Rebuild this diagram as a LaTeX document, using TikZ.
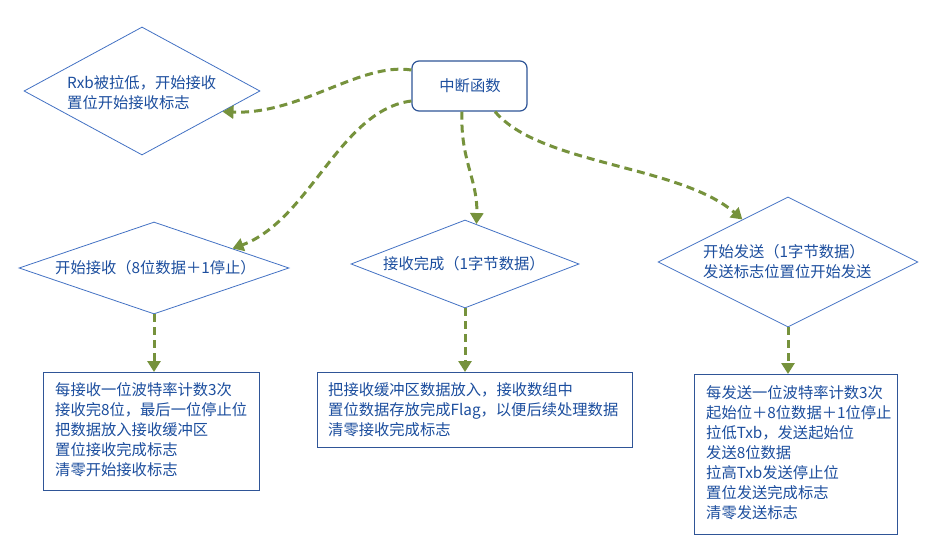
\documentclass[tikz,border=0pt]{standalone}
\usepackage{fontspec}
\setmainfont{Noto Sans CJK SC}
\usetikzlibrary{shapes.geometric,arrows.meta,calc}
\definecolor{txtblue}{RGB}{28,78,158}
\definecolor{edgeblue}{RGB}{47,85,151}
\definecolor{diablue}{RGB}{68,114,196}
\definecolor{olivegr}{RGB}{118,146,60}
\begin{document}
\begin{tikzpicture}[x=1pt,y=-1pt,
  txt/.style={font=\fontsize{15.3}{20}\selectfont, text=txtblue, align=left, inner sep=0pt, anchor=west},
  dia/.style={draw=diablue, line width=0.8pt, shape=diamond, inner sep=0pt},
  box/.style={draw=edgeblue, line width=1.2pt, inner sep=0pt, anchor=north west},
  conn/.style={draw=olivegr, line width=3pt, dash pattern=on 8pt off 5pt, -{Triangle[width=13pt,length=11pt]}}
]
\useasboundingbox[fill=white] (0,0) rectangle (944,548);

% top box
\node[draw=edgeblue, line width=1.2pt, rounded corners=7pt, minimum width=115pt, minimum height=50pt, inner sep=0pt] (top) at (469.5,86) {};
\node[txt, anchor=center] (toptxt) at (470,86) {中断函数};

% diamonds
\node[dia, minimum width=236pt, minimum height=128pt] (d1) at (142,91) {};
\node[txt] (d1t) at (67,93) {Rxb被拉低，开始接收\\置位开始接收标志};

\node[dia, minimum width=270pt, minimum height=92pt] (d2) at (154,268) {};
\node[txt] (d2t) at (55,268) {开始接收（8位数据＋1停止）};

\node[dia, minimum width=228pt, minimum height=88pt] (d3) at (465,264) {};
\node[txt] (d3t) at (383,264) {接收完成（1字节数据）};

\node[dia, minimum width=260pt, minimum height=130pt] (d4) at (788,262) {};
\node[txt] (d4t) at (703,262) {开始发送（1字节数据）\\发送标志位置位开始发送};

% boxes
\node[box, minimum width=216pt, minimum height=118pt] (b1) at (43,372) {};
\node[txt] (b1t) at (55,430) {每接收一位波特率计数3次\\接收完8位，最后一位停止位\\把数据放入接收缓冲区\\置位接收完成标志\\清零开始接收标志};

\node[box, minimum width=315pt, minimum height=75pt] (b2) at (317,372) {};
\node[txt] (b2t) at (328,410) {把接收缓冲区数据放入，接收数组中\\置位数据存放完成Flag，以便后续处理数据\\清零接收完成标志};

\node[box, minimum width=203pt, minimum height=160pt] (b3) at (694,374) {};
\node[txt] (b3t) at (706,453) {每发送一位波特率计数3次\\起始位＋8位数据＋1位停止\\拉低Txb，发送起始位\\发送8位数据\\拉高Txb发送停止位\\置位发送完成标志\\清零发送标志};

% connectors
\draw[conn] ([yshift=16pt]top.west) .. controls (360,62) and (300,115) .. ($(d1.east)!0.32!(d1.south)$);
\draw[conn] ([yshift=-15pt]top.west) .. controls (340,110) and (310,220) .. ($(d2.east)!0.42!(d2.north)$);
\draw[conn] ([xshift=-7.5pt]top.south) .. controls (460,160) and (478,180) .. ($(d3.north)!0.1!(d3.east)$);
\draw[conn] ([xshift=25.5pt]top.south) .. controls (540,165) and (680,165) .. ($(d4.north)!0.35!(d4.west)$);

\draw[conn] (d2.south) -- (d2.south |- b1.north);
\draw[conn] (d3.south) -- (d3.south |- b2.north);
\draw[conn] (d4.south) -- (d4.south |- b3.north);
\end{tikzpicture}
\end{document}
